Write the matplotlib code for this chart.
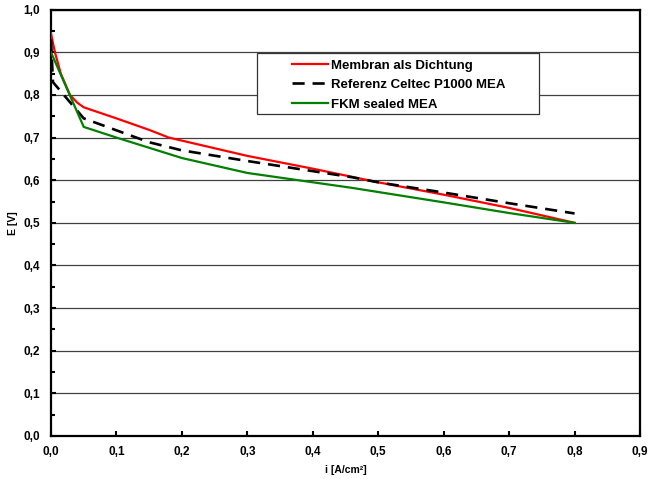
import matplotlib
matplotlib.use("Agg")
import matplotlib.pyplot as plt
from matplotlib.ticker import MultipleLocator, FuncFormatter
from matplotlib.patches import Rectangle

# values
i_membran = [0.0, 0.006, 0.015, 0.029, 0.04, 0.05, 0.1, 0.15, 0.18, 0.3, 0.4, 0.5, 0.6, 0.7, 0.8]
e_membran = [0.944, 0.90, 0.85, 0.80, 0.782, 0.771, 0.745, 0.718, 0.70, 0.657, 0.627, 0.595, 0.566, 0.535, 0.50]

i_celtec = [0.0, 0.003, 0.05, 0.1, 0.15, 0.2, 0.3, 0.46, 0.5, 0.6, 0.7, 0.8]
e_celtec = [0.93, 0.83, 0.745, 0.717, 0.689, 0.670, 0.645, 0.607, 0.595, 0.571, 0.546, 0.522]

i_fkm = [0.0, 0.05, 0.1, 0.2, 0.3, 0.46, 0.6, 0.7, 0.8]
e_fkm = [0.90, 0.725, 0.70, 0.652, 0.617, 0.582, 0.548, 0.523, 0.50]

labels = ["Membran als Dichtung", "Referenz Celtec P1000 MEA", "FKM sealed MEA"]

plt.rcParams['font.family'] = ['Liberation Sans', 'DejaVu Sans']
plt.rcParams['font.weight'] = 'bold'

fig = plt.figure(figsize=(6.48, 4.79), dpi=100)
ax = fig.add_axes([0.0787, 0.0898, 0.909, 0.890])

ax.plot(i_membran, e_membran, color='#ff0000', lw=1.6, label=labels[0], zorder=3)
ax.plot(i_celtec, e_celtec, color='black', lw=1.9, dashes=(4.6, 3.0), label=labels[1], zorder=3)
ax.plot(i_fkm, e_fkm, color='#008000', lw=1.6, label=labels[2], zorder=3)

ax.set_xlim(0, 0.9)
ax.set_ylim(0, 1.0)
ax.xaxis.set_major_locator(MultipleLocator(0.1))
ax.yaxis.set_major_locator(MultipleLocator(0.1))
ax.yaxis.set_minor_locator(MultipleLocator(0.05))
fmt = FuncFormatter(lambda v, p: ("%.1f" % v).replace('.', ','))
ax.xaxis.set_major_formatter(fmt)
ax.yaxis.set_major_formatter(fmt)

ax.yaxis.grid(True, which='major', color='#404040', lw=0.9)
ax.set_axisbelow(True)

for s in ax.spines.values():
    s.set_linewidth(1.6)
ax.tick_params(which='both', direction='in', width=1.5, labelsize=8.5,
               top=False, right=False)
ax.tick_params(which='major', length=3.5)
ax.tick_params(which='minor', length=3)
ax.tick_params(axis='x', pad=7)
ax.tick_params(axis='y', pad=8)

ax.set_xlabel("i [A/cm²]", fontsize=7.5, fontweight='bold', labelpad=5)
ax.set_ylabel("E [V]", fontsize=7.5, fontweight='bold', labelpad=4)

# legend box drawn separately, entries inside without frame
ax.add_patch(Rectangle((0.35, 0.755), 0.479, 0.143, transform=ax.transAxes,
                       facecolor='white', edgecolor='#333333', lw=0.9, zorder=4))
leg = ax.legend(loc='upper left', bbox_to_anchor=(0.400, 0.896), frameon=False,
                fontsize=9.5, handlelength=2.7, handletextpad=0.3,
                labelspacing=0.55, borderaxespad=0)
leg.set_zorder(5)
for t in leg.get_texts():
    t.set_fontweight('bold')

fig.savefig("out.png", dpi=100)
